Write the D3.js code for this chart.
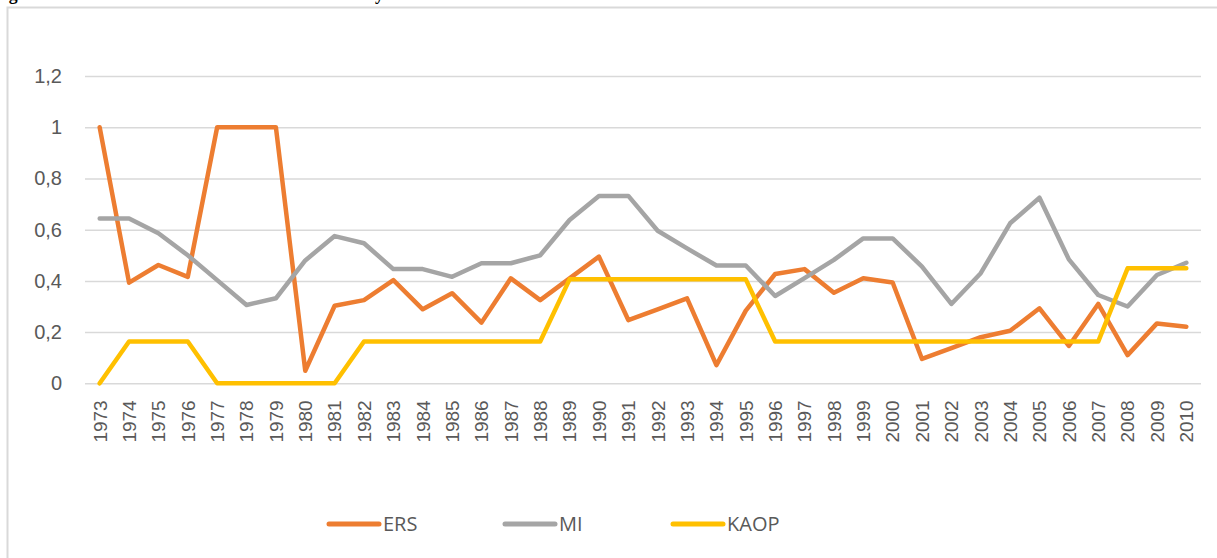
<!DOCTYPE html>
<html>
<head>
<meta charset="utf-8">
<script src="https://cdn.jsdelivr.net/npm/d3@7"></script>
<style>
    body { margin: 0; background: #fff; }
    svg { display: block; font-family: "Open Sans", sans-serif; }
    .grid line { stroke: #d9d9d9; stroke-width: 1.5; }
    .grid .domain { display: none; }
    .tick text { fill: #595959; font-size: 19px; }
</style>
</head>
<body>
<script>
// values
const years = d3.range(1973, 2011).map(String);

const ers = [1, 0.393, 0.462, 0.416, 1, 1, 1, 0.049, 0.303, 0.325,
    0.403, 0.289, 0.352, 0.237, 0.41, 0.325, 0.41, 0.495, 0.247, 0.289,
    0.332, 0.071, 0.284, 0.427, 0.446, 0.354, 0.41, 0.394, 0.095, 0.137,
    0.18, 0.205, 0.293, 0.146, 0.31, 0.11, 0.234, 0.221];

const mi = [0.644, 0.644, 0.586, 0.5, 0.403, 0.306, 0.332, 0.48, 0.575, 0.547,
    0.446, 0.446, 0.416, 0.469, 0.469, 0.5, 0.638, 0.732, 0.732, 0.596,
    0.527, 0.46, 0.46, 0.341, 0.411, 0.482, 0.566, 0.566, 0.456, 0.31,
    0.43, 0.625, 0.725, 0.484, 0.345, 0.3, 0.423, 0.471];

const kaop = [0, 0.163, 0.163, 0.163, 0, 0, 0, 0, 0, 0.163,
    0.163, 0.163, 0.163, 0.163, 0.163, 0.163, 0.406, 0.406, 0.406, 0.406,
    0.406, 0.406, 0.406, 0.163, 0.163, 0.163, 0.163, 0.163, 0.163, 0.163,
    0.163, 0.163, 0.163, 0.163, 0.163, 0.449, 0.449, 0.449];

const seriesNames = ["ERS", "MI", "KAOP"];
const yTicks = [0, 0.2, 0.4, 0.6, 0.8, 1, 1.2];
const yTickLabels = ["0", "0,2", "0,4", "0,6", "0,8", "1", "1,2"];

const width = 1217,
    height = 558;

const colors = ["#ed7d31", "#a5a5a5", "#ffc000"];

const svg = d3.select("body").append("svg")
    .attr("width", width)
    .attr("height", height);

// chart frame (runs off the picture on the right and bottom)
svg.append("rect")
    .attr("x", 7.5)
    .attr("y", 7.5)
    .attr("width", 1300)
    .attr("height", 700)
    .attr("fill", "#fff")
    .attr("stroke", "#d9d9d9")
    .attr("stroke-width", 2);

// caption above the chart, cut off by the top edge
svg.append("text")
    .attr("x", -7)
    .attr("y", -0.5)
    .attr("textLength", 391)
    .attr("lengthAdjust", "spacingAndGlyphs")
    .style("font-family", "'Liberation Serif', serif")
    .style("font-weight", "bold")
    .style("font-size", "18px")
    .text("Figure 1: Trilemma indexes of the Turkish economy");

const plot = { left: 85, right: 1201, top: 76.1, bottom: 383.3 };

const x = d3.scaleBand()
    .domain(years)
    .range([plot.left, plot.right]);

const y = d3.scaleLinear()
    .domain([0, 1.2])
    .range([plot.bottom, plot.top]);

svg.append("g")
    .attr("class", "grid")
    .attr("transform", `translate(${plot.left},0)`)
    .call(d3.axisLeft(y)
        .tickValues(yTicks)
        .tickFormat((d, i) => yTickLabels[i])
        .tickSize(-(plot.right - plot.left))
        .tickPadding(23))
    .selectAll("text")
    .style("font-size", "20px");

const xAxis = svg.append("g")
    .attr("class", "grid")
    .attr("transform", `translate(0,${plot.bottom})`)
    .call(d3.axisBottom(x).tickSize(0));

xAxis.selectAll("text")
    .attr("transform", "rotate(-90)")
    .attr("x", -17)
    .attr("y", 0)
    .attr("dy", "0.36em")
    .style("text-anchor", "end");

const line = d3.line()
    .x((d, i) => x(years[i]) + x.bandwidth() / 2)
    .y(d => y(d));

[ers, mi, kaop].forEach((vals, k) => {
    svg.append("path")
        .datum(vals)
        .attr("d", line)
        .attr("fill", "none")
        .attr("stroke", colors[k])
        .attr("stroke-width", 4.5)
        .attr("stroke-linejoin", "round")
        .attr("stroke-linecap", "round");
});

// legend
const legendX = [329, 505, 673];
const legend = svg.append("g")
    .selectAll("g")
    .data(seriesNames)
    .enter().append("g")
    .attr("transform", (d, i) => `translate(${legendX[i]},524)`);

legend.append("line")
    .attr("x1", 0)
    .attr("x2", 50)
    .attr("stroke", (d, i) => colors[i])
    .attr("stroke-width", 5)
    .attr("stroke-linecap", "round");

legend.append("text")
    .attr("x", 54)
    .attr("dy", "0.36em")
    .style("fill", "#595959")
    .style("font-size", "20px")
    .text(d => d);
</script>
</body>
</html>
